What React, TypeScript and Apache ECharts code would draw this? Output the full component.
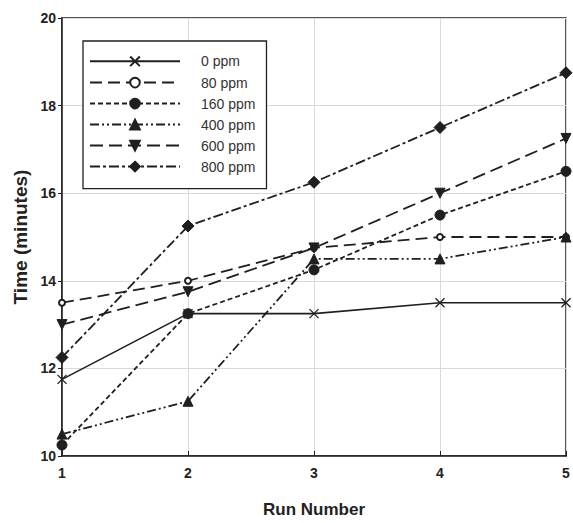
import React, { useEffect, useRef } from "react";
import * as echarts from "echarts";

const runs = [1, 2, 3, 4, 5];
const seriesNames = ["0 ppm", "80 ppm", "160 ppm", "400 ppm", "600 ppm", "800 ppm"];
const ppm0 = [11.75, 13.25, 13.25, 13.5, 13.5];
const ppm80 = [13.5, 14.0, 14.75, 15.0, 15.0];
const ppm160 = [10.25, 13.25, 14.25, 15.5, 16.5];
const ppm400 = [10.5, 11.25, 14.5, 14.5, 15.0];
const ppm600 = [13.0, 13.75, 14.75, 16.0, 17.25];
const ppm800 = [12.25, 15.25, 16.25, 17.5, 18.75];
const yTicks = [10, 12, 14, 16, 18, 20];

const INK = "#1f1f1f";
const FONT = "Liberation Sans, Arial, sans-serif";

const xSym = "path://M0,0L10,10M10,0L0,10";
const triDown = "path://M0,0L10,0L5,10Z";

export default function App() {
  const ref = useRef<HTMLDivElement>(null);
  useEffect(() => {
    if (!ref.current) return;
    const chart = echarts.init(ref.current, undefined, { renderer: "svg" });
    const pair = (vals: number[]) => runs.map((r, i) => [r, vals[i]]);
    const mk = (
      name: string,
      vals: number[],
      dash: any,
      symbol: string,
      size: number,
      fill: string,
      width = 1.8
    ) => ({
      name,
      type: "line",
      data: pair(vals),
      symbol,
      symbolSize: size,
      showAllSymbol: true,
      lineStyle: { color: INK, width, type: dash },
      itemStyle: { color: fill, borderColor: INK, borderWidth: symbol === xSym ? 1.3 : 1 },
      z: 3,
    });
    chart.setOption({
      animation: false,
      backgroundColor: "#fff",
      grid: { left: 62, right: 7, top: 18, bottom: 64, show: true, borderColor: INK, borderWidth: 1.5 },
      legend: {
        orient: "vertical",
        left: 83,
        top: 41,
        data: seriesNames,
        itemWidth: 90,
        itemHeight: 12,
        itemGap: 7,
        padding: [13, 11, 15, 6],
        borderColor: INK,
        borderWidth: 1.3,
        backgroundColor: "#fff",
        textStyle: { fontFamily: FONT, fontSize: 14, color: "#333", padding: [0, 0, 0, 16] },
      },
      xAxis: {
        type: "value",
        min: 1,
        max: 5,
        interval: 1,
        name: "Run Number",
        nameLocation: "middle",
        nameGap: 45,
        nameTextStyle: { fontFamily: FONT, fontSize: 17, fontWeight: "bold", color: "#222" },
        axisLine: { lineStyle: { color: INK, width: 1.5 } },
        axisTick: { inside: true, length: 5, lineStyle: { color: INK } },
        axisLabel: { fontFamily: FONT, fontSize: 14, fontWeight: "bold", color: "#222", margin: 10 },
        splitLine: { show: true, lineStyle: { color: "#d9d9d9", width: 1 } },
      },
      yAxis: {
        type: "value",
        min: 10,
        max: 20,
        interval: 2,
        name: "Time (minutes)",
        nameLocation: "middle",
        nameGap: 32,
        nameTextStyle: { fontFamily: FONT, fontSize: 19, fontWeight: "bold", color: "#222" },
        axisLine: { show: true, lineStyle: { color: INK, width: 1.5 } },
        axisTick: { show: true, inside: false, length: 4, lineStyle: { color: INK } },
        axisLabel: {
          fontFamily: FONT,
          fontSize: 14,
          fontWeight: "bold",
          color: "#222",
          margin: 6,
          formatter: (v: number) => (yTicks.includes(v) ? String(v) : ""),
        },
        splitLine: { show: true, lineStyle: { color: "#d9d9d9", width: 1 } },
      },
      series: [
        mk("0 ppm", ppm0, "solid", xSym, 9, "none", 1.6),
        mk("80 ppm", ppm80, [12, 6], "emptyCircle", 6, INK),
        mk("160 ppm", ppm160, [5, 3], "circle", 10, INK),
        mk("400 ppm", ppm400, [9, 3, 2, 3, 2, 3], "triangle", 10, INK),
        mk("600 ppm", ppm600, [13, 6], triDown, 10, INK),
        mk("800 ppm", ppm800, [10, 3, 3, 3], "diamond", 12, INK),
      ],
    });
    return () => chart.dispose();
  }, []);
  return <div ref={ref} style={{ width: 573, height: 523, position: "absolute", left: 0, top: 0 }} />;
}
